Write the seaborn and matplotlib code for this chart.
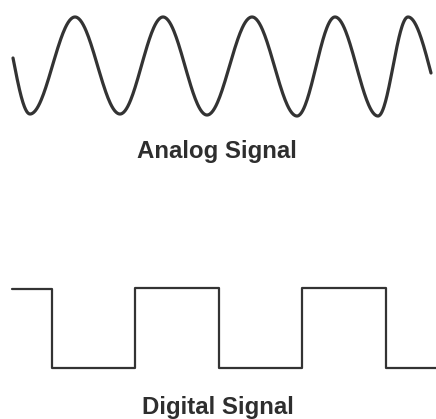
import numpy as np
import pandas as pd
import matplotlib
matplotlib.use("Agg")
import matplotlib.pyplot as plt
import seaborn as sns

# Analog wave: key points (pixel coords): start, extrema, end
analog_x = [13, 30, 75, 120, 163, 207, 252, 297, 335, 378, 408, 431]
analog_y = [58, 114, 17, 114, 17, 115, 17, 116, 17, 116, 17, 73]

# Digital wave: transition positions and levels
digital_x = [12, 52, 135, 219, 302, 386, 436]
digital_y = [289, 368, 288, 368, 288, 368, 368]

labels = ["Analog Signal", "Digital Signal"]
label_x = [217, 218]
label_y = [158, 414]

sns.set_theme(style="white")
plt.rcParams["font.family"] = ["Liberation Sans", "DejaVu Sans"]

def smooth_wave(xs, ys, n=60):
    px, py = [], []
    last = len(xs) - 2
    for i in range(len(xs) - 1):
        u = np.linspace(0, 1, n, endpoint=(i == last))
        x0, x1, y0, y1 = xs[i], xs[i + 1], ys[i], ys[i + 1]
        if i == 0:
            f = np.sin(u * np.pi / 2)
        elif i == last:
            f = 1 - np.cos(u * np.pi / 2)
        else:
            f = (1 - np.cos(u * np.pi)) / 2
        px.extend(x0 + (x1 - x0) * u)
        py.extend(y0 + (y1 - y0) * f)
    return np.array(px), np.array(py)

ax_x, ax_y = smooth_wave(analog_x, analog_y)
analog_df = pd.DataFrame({"x": ax_x, "y": ax_y})
digital_df = pd.DataFrame({"x": digital_x, "y": digital_y})

fig = plt.figure(figsize=(4.36, 4.19), dpi=100)
ax = fig.add_axes([0, 0, 1, 1])
ax.set_xlim(0, 436)
ax.set_ylim(419, 0)
ax.axis("off")

sns.lineplot(data=analog_df, x="x", y="y", ax=ax, sort=False, estimator=None,
             color="#333333", linewidth=2.3, solid_capstyle="round")
sns.lineplot(data=digital_df, x="x", y="y", ax=ax, sort=False, estimator=None,
             color="#333333", linewidth=1.6, drawstyle="steps-post")

for t, x, y in zip(labels, label_x, label_y):
    ax.text(x, y, t, ha="center", va="baseline", fontsize=17.3,
            fontweight="bold", color="#2e2e2e")

fig.savefig("out.png", dpi=100, facecolor="white")
